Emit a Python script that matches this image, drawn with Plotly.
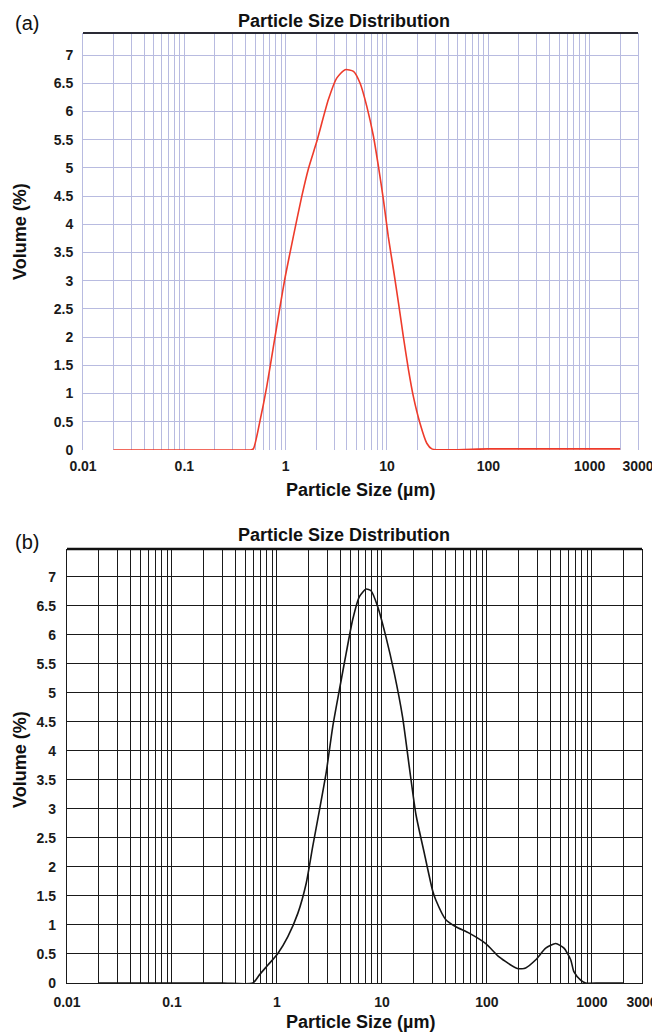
import math
import plotly.graph_objects as go

# ---------------- data ----------------
sizes_a = [0.02, 0.1, 0.3, 0.45, 0.48, 0.56, 0.65, 0.757, 0.88, 0.99, 1.19, 1.44, 1.68, 2.03,
           2.64, 3.19, 3.86, 4.67, 5.43, 6.32, 7.35, 8.24, 9.23, 10.3, 11.6, 13.0, 14.5,
           16.3, 18.2, 21.2, 24.7, 27.7, 100, 1000, 2000]
volume_a = [0.0, 0.0, 0.0, 0.0, 0.02, 0.53, 1.12, 1.83, 2.54, 3.07, 3.78, 4.49, 4.99, 5.47,
            6.21, 6.59, 6.74, 6.71, 6.50, 6.09, 5.56, 5.02, 4.43, 3.78, 3.19, 2.60, 2.01,
            1.42, 0.95, 0.47, 0.12, 0.02, 0.02, 0.02, 0.02]

sizes_b = [0.02, 0.1, 0.3, 0.59, 0.68, 0.82, 1.02, 1.27, 1.58, 1.90, 2.19, 2.54, 2.94, 3.40,
           3.93, 4.56, 5.26, 6.10, 7.06, 7.87, 9.10, 10.9, 13.1, 15.7, 18.2, 21.1, 25.3,
           30.3, 32.6, 40.6, 50.6, 67.7, 97.5, 130.6, 195, 234, 292, 363, 452, 542, 628,
           675, 781, 871, 1200, 2000]
volume_b = [0.0, 0.0, 0.0, 0.0, 0.14, 0.31, 0.51, 0.80, 1.20, 1.72, 2.35, 2.98, 3.62, 4.42,
            5.05, 5.68, 6.26, 6.66, 6.79, 6.76, 6.49, 5.97, 5.34, 4.59, 3.73, 2.90, 2.24,
            1.60, 1.43, 1.09, 0.97, 0.86, 0.68, 0.45, 0.25, 0.26, 0.40, 0.60, 0.68, 0.60, 0.40,
            0.19, 0.05, 0.0, 0.0, 0.0]

grid_sizes = [m * 10 ** e for e in range(-2, 3) for m in range(1, 10)] + [1000, 2000, 3000]
labelled_sizes = {0.01: "0.01", 0.1: "0.1", 1: "1", 10: "10", 100: "100", 1000: "1000", 3000: "3000"}
y_tick_vals = [i * 0.5 for i in range(15)]
y_tick_text = ["0", "0.5", "1", "1.5", "2", "2.5", "3", "3.5", "4", "4.5", "5", "5.5", "6", "6.5", "7"]

panel_title = "Particle Size Distribution"
x_title = "Particle Size (µm)"
y_title = "Volume (%)"

# ---------------- figure ----------------
# the page body adds an 8px margin, so the figure is placed at (8, 8) in the window
OFF = 8
W, H = 660 - OFF, 1033 - OFF
FONT = "Liberation Sans, Arial, sans-serif"


def px(x):
    return (x - OFF) / W


def py(y):
    return 1 - (y - OFF) / H


x_tick_text = []
for v in grid_sizes:
    key = None
    for k in labelled_sizes:
        if abs(v - k) < 1e-9 * max(1, k):
            key = k
    x_tick_text.append(labelled_sizes[key] if key is not None else "")

fig = go.Figure()
fig.add_trace(go.Scatter(x=sizes_a, y=volume_a, mode="lines",
                         line=dict(color="#ee3b2b", width=1.6, shape="spline", smoothing=0.6),
                         xaxis="x", yaxis="y", showlegend=False))
fig.add_trace(go.Scatter(x=sizes_b, y=volume_b, mode="lines",
                         line=dict(color="#151515", width=1.6, shape="spline", smoothing=0.6),
                         xaxis="x2", yaxis="y2", showlegend=False))

xr = [math.log10(0.01), math.log10(3000)]

tickfont = dict(family=FONT, size=14, color="#1a1a1a", weight="bold")

fig.update_layout(
    width=W, height=H,
    margin=dict(l=0, r=0, t=0, b=0, autoexpand=False),
    paper_bgcolor="white", plot_bgcolor="white",
    xaxis=dict(type="log", range=xr, domain=[px(83), px(638)], anchor="y", automargin=False,
               tickmode="array", tickvals=grid_sizes, ticktext=x_tick_text,
               showgrid=True, gridcolor="#b8bbe0", gridwidth=1,
               ticks="outside", ticklen=3, tickcolor="rgba(0,0,0,0)",
               ticklabeloverflow="allow",
               tickfont=tickfont, zeroline=False, showline=False),
    yaxis=dict(range=[0, 7.39], domain=[py(450), py(33)], anchor="x", automargin=False,
               tickmode="array", tickvals=y_tick_vals, ticktext=y_tick_text,
               showgrid=True, gridcolor="#b8bbe0", gridwidth=1,
               ticks="outside", ticklen=6, tickcolor="rgba(0,0,0,0)",
               tickfont=tickfont, zeroline=False,
               showline=True, linecolor="#b8bbe0", linewidth=1, mirror=True),
    xaxis2=dict(type="log", range=xr, domain=[px(67), px(642)], anchor="y2", automargin=False,
                tickmode="array", tickvals=grid_sizes, ticktext=x_tick_text,
                showgrid=True, gridcolor="#1a1a1a", gridwidth=1.4,
                ticks="outside", ticklen=6, tickcolor="rgba(0,0,0,0)",
                ticklabeloverflow="allow",
                tickfont=tickfont, zeroline=False,
                showline=True, linecolor="#1a1a1a", linewidth=1.4),
    yaxis2=dict(range=[0, 7.48], domain=[py(983), py(549)], anchor="x2", automargin=False,
                tickmode="array", tickvals=y_tick_vals, ticktext=y_tick_text,
                showgrid=True, gridcolor="#1a1a1a", gridwidth=1.4,
                ticks="outside", ticklen=7, tickcolor="rgba(0,0,0,0)",
                tickfont=tickfont, zeroline=False,
                showline=True, linecolor="#1a1a1a", linewidth=1.4, mirror=True),
)

# thick top borders of both plot areas
fig.add_shape(type="line", xref="x domain", yref="y domain", x0=0, x1=1, y0=1, y1=1,
              line=dict(color="#2a2a35", width=2.2))
fig.add_shape(type="line", xref="x2 domain", yref="y2 domain", x0=0, x1=1, y0=1, y1=1,
              line=dict(color="#111111", width=2.6))


def ann(text, x, y, size, bold=True, angle=0):
    fig.add_annotation(text=text, x=px(x), y=py(y), xref="paper", yref="paper",
                       showarrow=False, xanchor="center", yanchor="middle", textangle=angle,
                       font=dict(family=FONT, size=size, color="#111111",
                                 weight="bold" if bold else "normal"))


ann(panel_title, 344, 21, 18)
ann(panel_title, 344, 535, 18)
ann("(a)", 27, 23, 20, bold=False)
ann("(b)", 27, 542, 20, bold=False)
ann(x_title, 360, 490, 18)
ann(x_title, 360, 1022, 18)
ann(y_title, 20, 232, 18, angle=-90)
ann(y_title, 20, 760, 18, angle=-90)

fig.write_html("out.html")
